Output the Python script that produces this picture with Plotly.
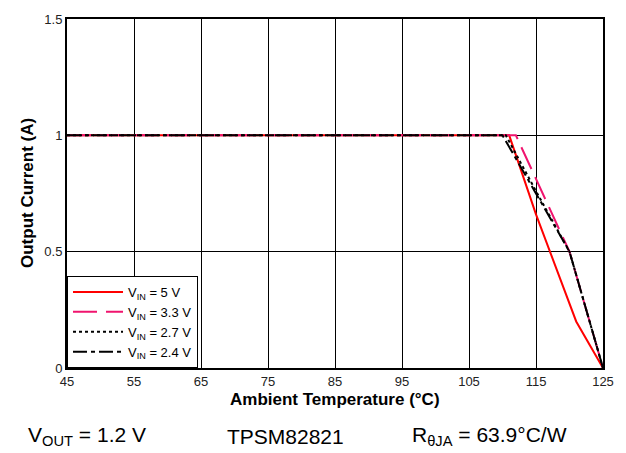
import plotly.graph_objects as go

# Data
t_5v = [45, 111, 115, 120, 121, 125]
i_5v = [1.0, 1.0, 0.66, 0.28, 0.2, 0.0]

t_33v = [45, 112, 120, 125]
i_33v = [1.0, 1.0, 0.5, 0.0]

t_27v = [45, 110.5, 115, 120, 125]
i_27v = [1.0, 1.0, 0.76, 0.5, 0.0]

t_24v = [45, 110, 115, 120, 125]
i_24v = [1.0, 1.0, 0.75, 0.5, 0.0]

names = ["V<sub>IN</sub> = 5 V", "V<sub>IN</sub> = 3.3 V",
         "V<sub>IN</sub> = 2.7 V", "V<sub>IN</sub> = 2.4 V"]
colors = ["#FF0000", "#F0146E", "#000000", "#000000"]
dashes = ["solid", "24px,9px", "3px,3px", "14px,4px,4px,4px"]

x_ticks = [45, 55, 65, 75, 85, 95, 105, 115, 125]
y_ticks = [0, 0.5, 1, 1.5]

FONT = "Liberation Sans, Arial, sans-serif"

fig = go.Figure()
series = [(t_5v, i_5v), (t_33v, i_33v), (t_27v, i_27v), (t_24v, i_24v)]
for (xs, ys), n, c, d in zip(series, names, colors, dashes):
    fig.add_trace(go.Scatter(x=xs, y=ys, mode="lines", name=n,
                             line=dict(color=c, width=2, dash=d)))

fig.update_layout(
    width=626, height=453,
    margin=dict(l=67, r=23, t=15, b=85),
    paper_bgcolor="white", plot_bgcolor="white",
    font=dict(family=FONT, size=13, color="black"),
    showlegend=True,
    legend=dict(x=0, y=0, xanchor="left", yanchor="bottom",
                bgcolor="white", bordercolor="black", borderwidth=1,
                font=dict(size=13), itemwidth=50, tracegroupgap=0),
)
fig.update_xaxes(range=[45, 125], tickvals=x_ticks,
                 ticktext=[str(v) for v in x_ticks],
                 showgrid=True, gridcolor="black", gridwidth=1,
                 showline=True, linecolor="black", linewidth=2, mirror=True,
                 zeroline=False, ticks="",
                 tickfont=dict(size=13, color="#222"))
fig.update_yaxes(range=[0, 1.5], tickvals=y_ticks,
                 ticktext=["0", "0.5", "1", "1.5"],
                 showgrid=True, gridcolor="black", gridwidth=1,
                 showline=True, linecolor="black", linewidth=2, mirror=True,
                 zeroline=False, ticks="",
                 tickfont=dict(size=13, color="#222"))

# axis titles
fig.add_annotation(text="<b>Ambient Temperature (°C)</b>", xref="paper", yref="paper",
                   x=0.5, y=(368 - 400) / 353, xanchor="center", yanchor="middle",
                   showarrow=False, font=dict(size=17, family=FONT, color="black"))
fig.add_annotation(text="<b>Output Current (A)</b>", xref="paper", yref="paper",
                   x=(27.5 - 67) / 536, y=0.5, xanchor="center", yanchor="middle",
                   textangle=-90, showarrow=False,
                   font=dict(size=17, family=FONT, color="black"))

notes = [("V<sub>OUT</sub> = 1.2 V", 26), ("TPSM82821", 225),
         ("R<sub>θJA</sub> = 63.9°C/W", 410)]
for txt, px in notes:
    fig.add_annotation(text=txt, xref="paper", yref="paper",
                       x=(px - 67) / 536, y=(368 - 437) / 353,
                       xanchor="left", yanchor="middle", showarrow=False,
                       font=dict(size=21, family=FONT, color="black"))

fig.write_html("out.html")
